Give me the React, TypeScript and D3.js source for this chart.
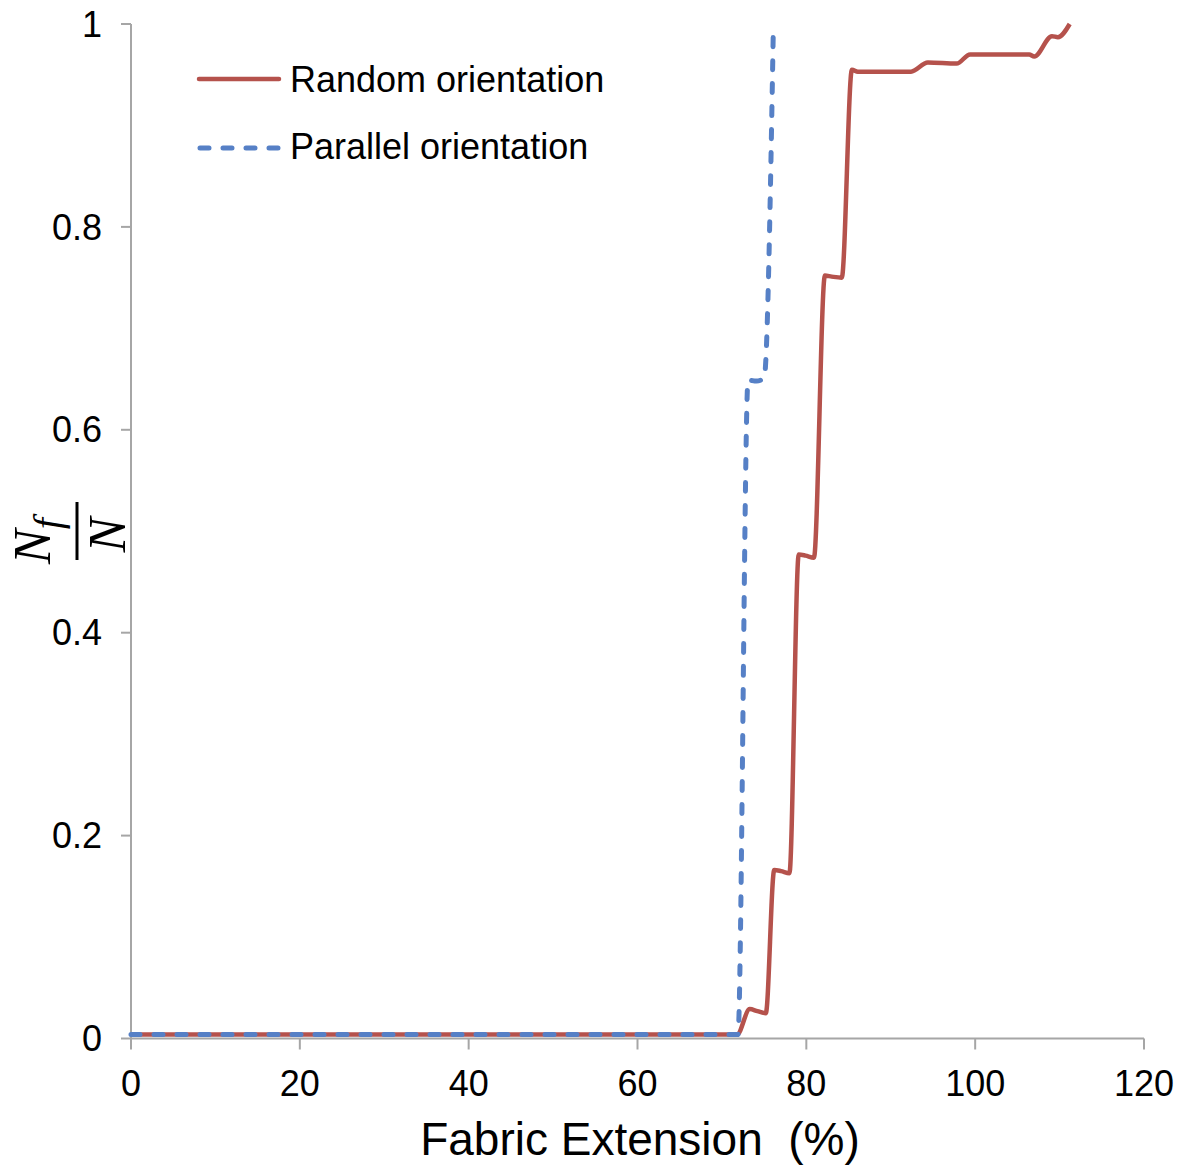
import React from "react";
import * as d3 from "d3";

// fabric extension (%) vs fraction of failed fibres
const randomX = [0, 71.8, 73.3, 74.2, 75.2, 76.2, 77.0, 78.0, 79.1, 79.9, 80.9, 82.2, 83.0, 84.2, 85.4, 86.1, 92.4, 94.4, 97.8, 99.4, 106.4, 107.0, 109.1, 109.8, 111.2];
const randomY = [0.004, 0.004, 0.029, 0.027, 0.025, 0.166, 0.165, 0.163, 0.477, 0.476, 0.474, 0.752, 0.751, 0.75, 0.955, 0.953, 0.953, 0.962, 0.961, 0.97, 0.97, 0.968, 0.988, 0.987, 1.0];

const parallelX = [0, 71.9, 73.1, 74.1, 75.0, 76.1];
const parallelY = [0.004, 0.004, 0.649, 0.648, 0.651, 1.0];

const xTicks = [0, 20, 40, 60, 80, 100, 120];
const yTicks = [0, 0.2, 0.4, 0.6, 0.8, 1];

const seriesNames = ["Random orientation", "Parallel orientation"];

const W = 1190;
const H = 1174;
const RED = "#B5524C";
const BLUE = "#5680C6";
const AXIS = "#a6a6a6";
const FONT = "'Liberation Sans', Arial, sans-serif";

export default function App() {
  const x = d3.scaleLinear().domain([0, 120]).range([131, 1144]);
  const y = d3.scaleLinear().domain([0, 1]).range([1038.5, 24]);

  const line = d3
    .line<[number, number]>()
    .x(d => x(d[0]))
    .y(d => y(d[1]))
    .curve(d3.curveMonotoneX);

  const redPts = randomX.map((v, i) => [v, randomY[i]] as [number, number]);
  const bluePts = parallelX.map((v, i) => [v, parallelY[i]] as [number, number]);

  return (
    <svg width={W} height={H} style={{ position: "absolute", left: 0, top: 0, background: "#fff" }}>
      {/* axes */}
      <line x1={x(0)} x2={x(120)} y1={y(0)} y2={y(0)} stroke={AXIS} strokeWidth={2} />
      <line x1={x(0)} x2={x(0)} y1={y(0)} y2={y(1)} stroke={AXIS} strokeWidth={2} />
      {xTicks.map(t => (
        <g key={"x" + t}>
          <line x1={x(t)} x2={x(t)} y1={y(0)} y2={y(0) + 11} stroke={AXIS} strokeWidth={2} />
          <text x={x(t)} y={1096} textAnchor="middle" fontFamily={FONT} fontSize={36} fill="#000">
            {t}
          </text>
        </g>
      ))}
      {yTicks.map(t => (
        <g key={"y" + t}>
          <line x1={x(0) - 10} x2={x(0)} y1={y(t)} y2={y(t)} stroke={AXIS} strokeWidth={2} />
          <text x={102} y={y(t)} dy="0.35em" textAnchor="end" fontFamily={FONT} fontSize={36} fill="#000">
            {d3.format("~g")(t)}
          </text>
        </g>
      ))}

      {/* series */}
      <path d={line(redPts) || ""} fill="none" stroke={RED} strokeWidth={4.5} strokeLinejoin="round" />
      <path
        d={line(bluePts) || ""}
        fill="none"
        stroke={BLUE}
        strokeWidth={5}
        strokeDasharray="9 14"
        strokeLinecap="round"
      />

      {/* legend */}
      <line x1={199} x2={279} y1={79} y2={79} stroke={RED} strokeWidth={4.5} strokeLinecap="round" />
      <text x={290} y={92} fontFamily={FONT} fontSize={36} fill="#000">
        {seriesNames[0]}
      </text>
      <line x1={200} x2={280} y1={148} y2={148} stroke={BLUE} strokeWidth={5} strokeDasharray="9 14" strokeLinecap="round" />
      <text x={290} y={159} fontFamily={FONT} fontSize={36} fill="#000">
        {seriesNames[1]}
      </text>

      {/* axis titles */}
      <text x={640} y={1155} textAnchor="middle" fontFamily={FONT} fontSize={46} fill="#000" style={{ whiteSpace: "pre" }}>
        {"Fabric Extension  (%)"}
      </text>
      <g transform="translate(77,531) rotate(-90)" fontFamily="'Liberation Serif', 'Times New Roman', serif" fontStyle="italic" fill="#000">
        <text x={-33} y={-27} fontSize={52}>
          N
          <tspan dy={11} fontSize={40}>f</tspan>
        </text>
        <line x1={-29} x2={29} y1={0} y2={0} stroke="#000" strokeWidth={3} />
        <text x={-4} y={48} fontSize={52} textAnchor="middle">
          N
        </text>
      </g>
    </svg>
  );
}
